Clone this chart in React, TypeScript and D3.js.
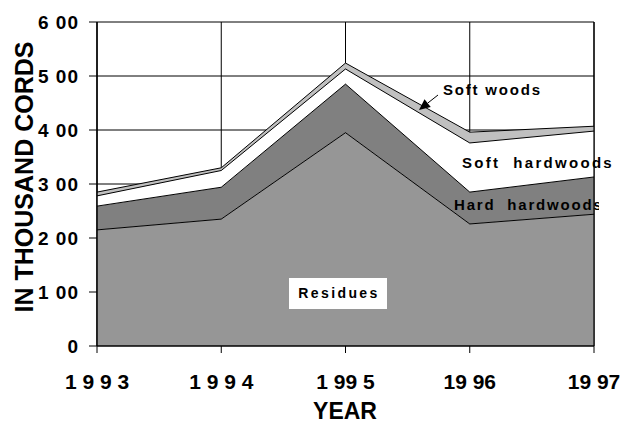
import React from "react";
import * as d3 from "d3";

const years = [1993, 1994, 1995, 1996, 1997];
const xTickLabels = ["1 9 9 3", "1 9 9 4", "1 99 5", "19 96", "19 97"];
const yTicks = [0, 100, 200, 300, 400, 500, 600];
const yTickLabels = ["0", "1 00", "2 00", "3 00", "4 00", "5 00", "6 00"];
const residues = [215, 235, 395, 226, 244];
const hardHardwoods = [44, 59, 90, 59, 69];
const softHardwoods = [19, 31, 28, 91, 85];
const softwoods = [7, 5, 11, 20, 9];
const seriesKeys = ["residues", "hard", "soft", "softwoods"];
const seriesColors = ["#969696", "#808080", "#ffffff", "#c0c0c0"];

const W = 626, H = 424;
const left = 97, right = 594, top = 22, bottom = 346;
const font = "'Liberation Sans', Arial, sans-serif";

export default function App() {
  const x = d3.scalePoint<number>().domain(years).range([left, right]);
  const y = d3.scaleLinear().domain([0, 600]).range([bottom, top]);
  const rows = years.map((yr, i) => ({
    year: yr,
    residues: residues[i],
    hard: hardHardwoods[i],
    soft: softHardwoods[i],
    softwoods: softwoods[i],
  }));
  const stacked = d3.stack<any>().keys(seriesKeys)(rows);
  const area = d3
    .area<any>()
    .x((d) => x(d.data.year)!)
    .y0((d) => y(d[0]))
    .y1((d) => y(d[1]));
  const line = d3
    .line<any>()
    .x((d) => x(d.data.year)!)
    .y((d) => y(d[1]));

  const arrowTip = [419, 110];
  const arrowStart = [438, 95];
  const ang = Math.atan2(arrowTip[1] - arrowStart[1], arrowTip[0] - arrowStart[0]);
  const hl = 11, hw = 5;
  const bx = arrowTip[0] - hl * Math.cos(ang), by = arrowTip[1] - hl * Math.sin(ang);
  const head = [
    [arrowTip[0], arrowTip[1]],
    [bx + hw * Math.sin(ang), by - hw * Math.cos(ang)],
    [bx - hw * Math.sin(ang), by + hw * Math.cos(ang)],
  ];

  return (
    <svg width={W} height={H} style={{ position: "absolute", left: 0, top: 0, background: "#fff" }}>
      <defs>
        <clipPath id="hhclip">
          <rect x={0} y={0} width={599} height={H} />
        </clipPath>
      </defs>
      {yTicks.filter((t) => t > 0).map((t) => (
        <line key={"gy" + t} x1={left} x2={right} y1={y(t)} y2={y(t)} stroke="#000" strokeWidth={1} />
      ))}
      {years.map((yr) => (
        <line key={"gx" + yr} x1={x(yr)} x2={x(yr)} y1={top} y2={bottom} stroke="#000" strokeWidth={1} />
      ))}
      {stacked.map((s, i) => (
        <path key={"a" + i} d={area(s as any)!} fill={seriesColors[i]} stroke="none" />
      ))}
      {stacked.map((s, i) => (
        <path key={"l" + i} d={line(s as any)!} fill="none" stroke="#000" strokeWidth={1} />
      ))}
      <line x1={right} x2={right} y1={top} y2={bottom} stroke="#000" strokeWidth={1.2} />
      <line x1={left} x2={left} y1={top} y2={bottom} stroke="#000" strokeWidth={1.5} />
      <line x1={left} x2={right} y1={bottom} y2={bottom} stroke="#000" strokeWidth={1.5} />
      {yTicks.map((t) => (
        <line key={"ty" + t} x1={left - 8} x2={left} y1={y(t)} y2={y(t)} stroke="#000" strokeWidth={1} />
      ))}
      {years.map((yr) => (
        <line key={"tx" + yr} x1={x(yr)} x2={x(yr)} y1={bottom} y2={bottom + 7} stroke="#000" strokeWidth={1} />
      ))}
      {yTicks.map((t, i) => (
        <text
          key={"yl" + t}
          x={79}
          y={y(t)}
          dy="0.36em"
          textAnchor="end"
          fontFamily={font}
          fontWeight="bold"
          fontSize={19}
          letterSpacing={1}
          fill="#000"
        >
          {yTickLabels[i]}
        </text>
      ))}
      {years.map((yr, i) => (
        <text
          key={"xl" + yr}
          x={x(yr)}
          y={389}
          textAnchor="middle"
          fontFamily={font}
          fontWeight="bold"
          fontSize={21}
          fill="#000"
          style={{ whiteSpace: "pre" }}
        >
          {xTickLabels[i]}
        </text>
      ))}
      <text x={345} y={419} textAnchor="middle" fontFamily={font} fontWeight="bold" fontSize={23} fill="#000">
        YEAR
      </text>
      <text
        transform={`translate(33,177) rotate(-90)`}
        textAnchor="middle"
        fontFamily={font}
        fontWeight="bold"
        fontSize={25}
        fill="#000"
      >
        IN THOUSAND CORDS
      </text>
      <rect x={289} y={278} width={98} height={31} fill="#fff" />
      <text x={339} y={298} textAnchor="middle" fontFamily={font} fontWeight="bold" fontSize={14} letterSpacing={2.4} fill="#000">
        Residues
      </text>
      <text x={443} y={95} fontFamily={font} fontWeight="bold" fontSize={15} letterSpacing={1.8} fill="#000">
        Soft woods
      </text>
      <text x={462} y={168} fontFamily={font} fontWeight="bold" fontSize={15} letterSpacing={2.3} fill="#000" style={{ whiteSpace: "pre" }}>
        Soft  hardwoods
      </text>
      <g clipPath="url(#hhclip)">
        <text x={454} y={210} fontFamily={font} fontWeight="bold" fontSize={15} letterSpacing={1.8} fill="#000" style={{ whiteSpace: "pre" }}>
          Hard  hardwoods
        </text>
      </g>
      <line x1={arrowStart[0]} y1={arrowStart[1]} x2={bx} y2={by} stroke="#000" strokeWidth={1} />
      <polygon points={head.map((p) => p.join(",")).join(" ")} fill="#000" />
    </svg>
  );
}
